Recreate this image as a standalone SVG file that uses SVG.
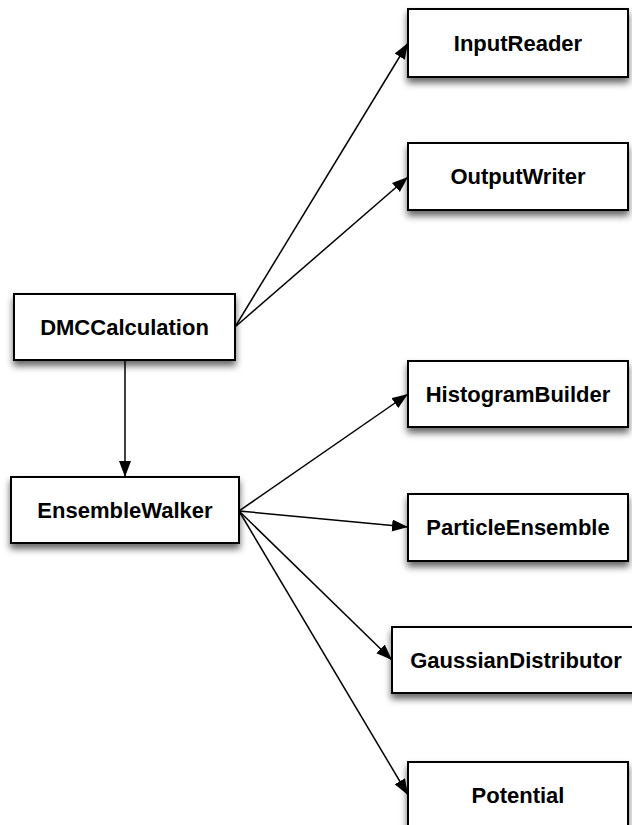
<svg xmlns="http://www.w3.org/2000/svg" width="632" height="825" viewBox="0 0 632 825">
<style>
.box{fill:#fff;stroke:#000;stroke-width:2;filter:url(#sh)}
.lbl{font-family:"Liberation Sans",Arial,Helvetica,sans-serif;font-weight:bold;font-size:22px;fill:#000;text-anchor:middle}
.edge{stroke:#000;stroke-width:1.5;fill:none;marker-end:url(#ah)}
</style>
<defs>
<filter id="sh" x="-20%" y="-30%" width="140%" height="180%">
<feDropShadow dx="0" dy="5" stdDeviation="3.5" flood-color="#000" flood-opacity="0.6"/>
</filter>
<marker id="ah" markerUnits="userSpaceOnUse" markerWidth="18" markerHeight="13" refX="16" refY="6" orient="auto">
<path d="M0,0 L16,6 L0,12 z" fill="#000"/>
</marker>
</defs>
<rect width="632" height="825" fill="#fff"/>
<g id="connectors">
<line class="edge" x1="235" y1="327" x2="408" y2="43"/>
<line class="edge" x1="235" y1="327" x2="408" y2="177"/>
<line class="edge" x1="125" y1="360" x2="125" y2="477"/>
<line class="edge" x1="239" y1="511" x2="408" y2="394"/>
<line class="edge" x1="239" y1="511" x2="408" y2="527"/>
<line class="edge" x1="239" y1="511" x2="392" y2="660"/>
<line class="edge" x1="239" y1="511" x2="408" y2="795"/>
</g>
<g id="InputReader"><rect class="box" x="408" y="9" width="220" height="68"/><text class="lbl" x="518" y="51">InputReader</text></g>
<g id="OutputWriter"><rect class="box" x="408" y="143" width="220" height="67"/><text class="lbl" x="518" y="184">OutputWriter</text></g>
<g id="DMCCalculation"><rect class="box" x="14" y="294" width="221" height="66"/><text class="lbl" x="124.5" y="335">DMCCalculation</text></g>
<g id="HistogramBuilder"><rect class="box" x="408" y="361" width="220" height="66"/><text class="lbl" x="518" y="402">HistogramBuilder</text></g>
<g id="EnsembleWalker"><rect class="box" x="11" y="477" width="228" height="66"/><text class="lbl" x="125" y="518">EnsembleWalker</text></g>
<g id="ParticleEnsemble"><rect class="box" x="408" y="494" width="220" height="67"/><text class="lbl" x="518" y="535">ParticleEnsemble</text></g>
<g id="GaussianDistributor"><rect class="box" x="392" y="627" width="250" height="66"/><text class="lbl" x="516" y="668">GaussianDistributor</text></g>
<g id="Potential"><rect class="box" x="408" y="762" width="220" height="67"/><text class="lbl" x="518" y="803">Potential</text></g>
</svg>
